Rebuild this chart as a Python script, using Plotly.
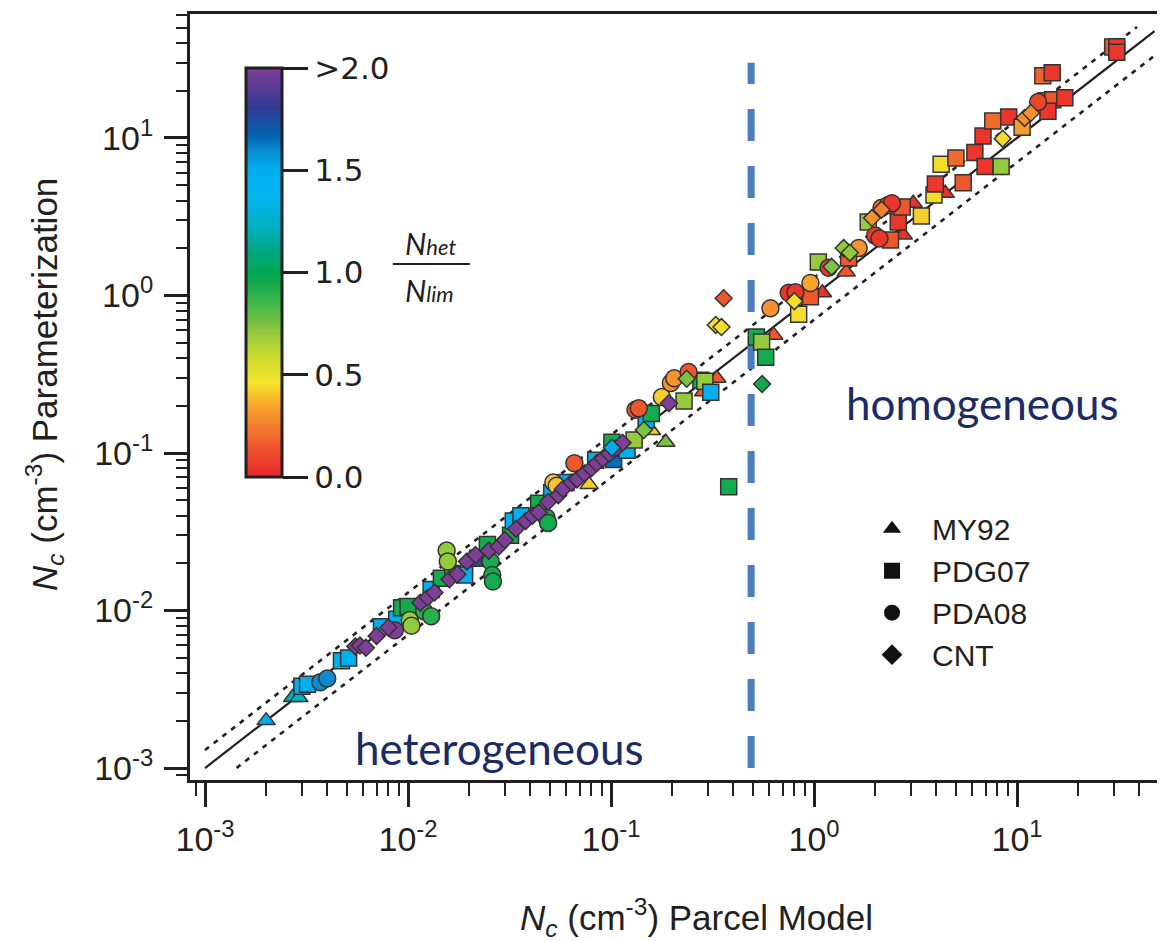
import plotly.graph_objects as go

# ---------------- data (x: parcel model, y: parameterization, r: Nhet/Nlim) -------------
my92_x = [0.0020, 0.0027, 0.0029, 0.078, 0.158, 0.186, 0.286, 0.332, 0.633, 1.10, 1.44, 2.75, 3.08, 4.43, 7.6]
my92_y = [0.0020, 0.0028, 0.0028, 0.063, 0.139, 0.117, 0.245, 0.298, 0.56, 1.04, 1.41, 2.42, 3.85, 4.45, 6.5]
my92_r = [1.5, 1.2, 1.25, 0.42, 0.42, 0.75, 0.15, 0.15, 0.15, 0.03, 0.15, 0.03, 0.03, 0.03, 0.03]

pdg07_x = [0.0030, 0.0032, 0.0047, 0.0051, 0.0074, 0.0088, 0.0093, 0.0100, 0.0130, 0.0146,
           0.0166, 0.019, 0.022, 0.0246, 0.032, 0.033, 0.036, 0.044, 0.051, 0.060,
           0.084, 0.101, 0.103, 0.120, 0.130, 0.149, 0.158, 0.229, 0.277, 0.290,
           0.31, 0.38, 0.52, 0.552, 0.578, 0.84, 0.96, 1.05, 1.48, 1.85,
           2.38, 2.6, 2.72, 3.38, 3.9, 3.96, 4.23, 5.0, 5.43, 6.2,
           6.96, 8.35, 6.8, 7.6, 9.1, 10.6, 13.9, 15.0, 14.2, 17.2,
           13.4, 14.9, 29.6, 31.0, 31.0]
pdg07_y = [0.0033, 0.0034, 0.0048, 0.0050, 0.0079, 0.0088, 0.0104, 0.0106, 0.0136, 0.0160,
           0.0172, 0.0168, 0.0215, 0.0262, 0.030, 0.037, 0.040, 0.048, 0.056, 0.065,
           0.090, 0.117, 0.091, 0.104, 0.121, 0.162, 0.178, 0.214, 0.29, 0.285,
           0.243, 0.061, 0.545, 0.507, 0.405, 0.76, 0.98, 1.63, 1.73, 2.93,
           2.25, 2.93, 3.65, 3.2, 4.35, 5.1, 6.8, 7.45, 5.2, 8.1,
           6.6, 6.6, 10.3, 12.8, 13.6, 11.7, 17.2, 17.5, 14.8, 18.0,
           24.8, 25.9, 37.8, 38.0, 35.0]
pdg07_r = [1.45, 1.45, 1.45, 1.45, 1.45, 1.45, 0.95, 0.95, 1.45, 0.95,
           0.95, 1.45, 1.85, 0.95, 0.95, 1.45, 1.45, 0.95, 1.45, 1.45,
           1.45, 0.95, 1.65, 1.45, 0.7, 1.45, 0.95, 0.7, 0.95, 0.7,
           1.45, 0.95, 0.95, 0.7, 0.95, 0.45, 0.15, 0.7, 0.15, 0.7,
           0.15, 0.05, 0.15, 0.42, 0.45, 0.05, 0.45, 0.2, 0.15, 0.05,
           0.05, 0.7, 0.05, 0.2, 0.05, 0.32, 0.15, 0.15, 0.05, 0.05,
           0.18, 0.05, 0.15, 0.05, 0.05]

pda08_x = [0.0037, 0.0040, 0.0086, 0.0102, 0.0104, 0.0120, 0.0130, 0.0155, 0.0157, 0.0255,
           0.0260, 0.0262, 0.048, 0.049, 0.052, 0.054, 0.066, 0.132, 0.137, 0.178,
           0.197, 0.205, 0.241, 0.61, 0.75, 0.81, 0.96, 1.18, 1.66, 2.0,
           2.1, 2.15, 2.32, 2.42, 12.7]
pda08_y = [0.0035, 0.0037, 0.0075, 0.0087, 0.0080, 0.0099, 0.0092, 0.0240, 0.0205, 0.0205,
           0.0168, 0.0153, 0.039, 0.036, 0.065, 0.062, 0.086, 0.188, 0.192, 0.227,
           0.278, 0.298, 0.327, 0.83, 1.04, 1.05, 1.2, 1.50, 2.0, 2.4,
           2.3, 3.6, 3.75, 3.85, 16.9]
pda08_r = [1.6, 1.6, 2.0, 0.7, 0.7, 0.9, 0.9, 0.7, 0.7, 0.95,
           0.95, 0.95, 0.95, 0.95, 0.4, 0.4, 0.15, 0.15, 0.15, 0.42,
           0.3, 0.3, 0.15, 0.3, 0.05, 0.05, 0.35, 0.05, 0.3, 0.05,
           0.05, 0.2, 0.2, 0.05, 0.1]

cnt_x = [0.0055, 0.0058, 0.0062, 0.0070, 0.0080, 0.0115, 0.0125, 0.0135, 0.0160, 0.0175,
         0.0195, 0.0215, 0.025, 0.028, 0.030, 0.034, 0.038, 0.041, 0.044, 0.049,
         0.055, 0.058, 0.064, 0.068, 0.074, 0.080, 0.085, 0.091, 0.098, 0.106,
         0.114, 0.101, 0.145, 0.193, 0.236, 0.359, 0.328, 0.35, 0.555, 0.80,
         1.22, 1.40, 1.50, 1.93, 2.15, 8.5, 10.9, 11.7]
cnt_y = [0.0059, 0.0060, 0.0058, 0.0069, 0.0078, 0.0112, 0.0121, 0.0130, 0.0158, 0.0170,
         0.0205, 0.0225, 0.024, 0.0255, 0.028, 0.033, 0.037, 0.040, 0.042, 0.049,
         0.054, 0.059, 0.065, 0.068, 0.074, 0.080, 0.086, 0.092, 0.099, 0.107,
         0.116, 0.108, 0.140, 0.207, 0.296, 0.96, 0.65, 0.63, 0.274, 0.92,
         1.52, 2.0, 1.87, 3.1, 3.5, 9.9, 13.4, 14.4]
cnt_r = [2.0, 2.0, 2.0, 2.0, 2.0, 2.0, 2.0, 2.0, 2.0, 2.0,
         2.0, 2.0, 2.0, 2.0, 2.0, 2.0, 2.0, 2.0, 2.0, 2.0,
         2.0, 2.0, 2.0, 2.0, 2.0, 2.0, 2.0, 2.0, 2.0, 2.0,
         2.0, 1.5, 0.75, 2.0, 0.75, 0.15, 0.45, 0.45, 0.95, 0.45,
         0.75, 0.7, 0.7, 0.3, 0.25, 0.45, 0.3, 0.3]

scheme_names = ["MY92", "PDG07", "PDA08", "CNT"]

# reference lines
line_1to1 = [0.001, 47.6]
upper_band_x = [0.001, 39.0]
lower_band_x = [0.00143, 47.6]
band_factor_hi = 1.3
band_factor_lo = 0.7
threshold_x = 0.49
threshold_y = [0.001, 30.0]

cbar_tickvals = [0.0, 0.5, 1.0, 1.5, 2.0]
cbar_ticktext = ["0.0", "0.5", "1.0", "1.5", ">2.0"]

major_vals = [1e-3, 1e-2, 1e-1, 1e0, 1e1]
major_text = ["10<sup>-3</sup>", "10<sup>-2</sup>", "10<sup>-1</sup>", "10<sup>0</sup>", "10<sup>1</sup>"]
minor_vals = [m * 10.0 ** k for k in range(-4, 2) for m in range(2, 10)]

colorscale = [
    [0.00, "#e8262a"], [0.07, "#ee532c"], [0.13, "#f3822f"], [0.18, "#f8ab2b"],
    [0.23, "#f5e42a"], [0.30, "#c8db32"], [0.36, "#8cc63f"], [0.43, "#39b54a"],
    [0.50, "#00a651"], [0.56, "#00a88a"], [0.61, "#00b0c0"], [0.68, "#00b4ec"],
    [0.75, "#00aeef"], [0.80, "#0a8ad0"], [0.83, "#0068b2"], [0.90, "#2e3a94"],
    [1.00, "#7f3f98"],
]

AX = "#231f20"
TXT = "#231f20"
NAVY = "#1b2b66"
SANS = "Liberation Sans, Arial, sans-serif"
HUM = "Lato, Open Sans, sans-serif"
WIDE = "DejaVu Sans, Verdana, sans-serif"

fig = go.Figure()

# reference lines
fig.add_trace(go.Scatter(x=line_1to1, y=line_1to1, mode="lines",
                         line=dict(color=AX, width=2.2), showlegend=False, hoverinfo="skip"))
fig.add_trace(go.Scatter(x=upper_band_x, y=[v * band_factor_hi for v in upper_band_x], mode="lines",
                         line=dict(color=AX, width=2.6, dash="5px,6px"), showlegend=False, hoverinfo="skip"))
fig.add_trace(go.Scatter(x=lower_band_x, y=[v * band_factor_lo for v in lower_band_x], mode="lines",
                         line=dict(color=AX, width=2.6, dash="5px,6px"), showlegend=False, hoverinfo="skip"))
fig.add_trace(go.Scatter(x=[threshold_x, threshold_x], y=threshold_y, mode="lines",
                         line=dict(color="#4a7dbd", width=7, dash="32px,25px"), showlegend=False, hoverinfo="skip"))

symbols = ["triangle-up", "square", "circle", "diamond"]
sizes = [16, 16, 17, 13]
datasets = [(my92_x, my92_y, my92_r), (pdg07_x, pdg07_y, pdg07_r),
            (pda08_x, pda08_y, pda08_r), (cnt_x, cnt_y, cnt_r)]

for name, sym, sz, (xs, ys, rs) in zip(scheme_names, symbols, sizes, datasets):
    fig.add_trace(go.Scatter(
        x=xs, y=ys, mode="markers", name=name, showlegend=False,
        marker=dict(symbol=sym, size=sz, color=rs, coloraxis="coloraxis",
                    line=dict(color="#333333", width=1.5)),
    ))

# legend entries (black symbols)
for name, sym in zip(scheme_names, symbols):
    fig.add_trace(go.Scatter(
        x=[None], y=[None], mode="markers", name=name,
        marker=dict(symbol=sym, size=16, color="#111111"),
    ))

fig.update_layout(
    width=1157, height=933,
    margin=dict(l=182, r=0, t=6, b=161, autoexpand=False),
    paper_bgcolor="white", plot_bgcolor="white",
    showlegend=True,
    legend=dict(x=0.679, y=0.362, xanchor="left", yanchor="top",
                font=dict(size=30, color=TXT, family=SANS),
                itemwidth=70, tracegroupgap=0, bgcolor="rgba(0,0,0,0)", itemsizing="trace"),
    coloraxis=dict(
        cmin=0, cmax=2, colorscale=colorscale,
        colorbar=dict(
            x=0.0574, xanchor="left", y=0.6625, yanchor="middle",
            thickness=36, thicknessmode="pixels", len=409, lenmode="pixels",
            xpad=0, ypad=0, outlinewidth=3, outlinecolor=AX,
            tickvals=cbar_tickvals, ticktext=cbar_ticktext,
            ticks="outside", ticklen=25, tickwidth=3, tickcolor=AX,
            tickfont=dict(size=31, color=TXT, family=WIDE),
        ),
    ),
    xaxis=dict(
        type="log", range=[-3.074, 1.729],
        showgrid=False, zeroline=False,
        showline=True, linecolor=AX, linewidth=3, mirror=True,
        ticks="outside", ticklen=24, tickwidth=2.5, tickcolor=AX,
        tickvals=major_vals, ticktext=major_text,
        tickfont=dict(size=34, color=TXT, family=SANS),
        ticklabelstandoff=3,
        minor=dict(ticks="outside", ticklen=13, tickwidth=2, tickcolor=AX, tickvals=minor_vals, showgrid=False),
    ),
    yaxis=dict(
        type="log", range=[-3.076, 1.787],
        showgrid=False, zeroline=False,
        showline=True, linecolor=AX, linewidth=3, mirror=False,
        ticks="outside", ticklen=23, tickwidth=2.5, tickcolor=AX,
        tickvals=major_vals, ticktext=major_text,
        tickfont=dict(size=34, color=TXT, family=SANS),
        ticklabelstandoff=4,
        minor=dict(ticks="outside", ticklen=11, tickwidth=2, tickcolor=AX, tickvals=minor_vals, showgrid=False),
    ),
    annotations=[
        dict(text="<i>N<sub>c</sub></i> (cm<sup>-3</sup>) Parcel Model", xref="paper", yref="paper",
             x=0.519, y=-0.180, xanchor="center", yanchor="middle", showarrow=False,
             font=dict(size=35, color=TXT, family=SANS)),
        dict(text="<i>N<sub>c</sub></i> (cm<sup>-3</sup>) Parameterization", xref="paper", yref="paper",
             x=-0.1487, y=0.5157, xanchor="center", yanchor="middle", textangle=-90, showarrow=False,
             font=dict(size=35, color=TXT, family=SANS)),
        dict(text="homogeneous", xref="paper", yref="paper", x=0.813, y=0.492,
             xanchor="center", yanchor="middle",
             showarrow=False, font=dict(size=44, color=NAVY, family=HUM)),
        dict(text="heterogeneous", xref="paper", yref="paper", x=0.317, y=0.0418,
             xanchor="center", yanchor="middle",
             showarrow=False, font=dict(size=44, color=NAVY, family=HUM)),
        dict(text="<i>N<span style='font-size:22px'>het</span></i>", xref="paper", yref="paper",
             x=0.2185, y=0.701, xanchor="left", yanchor="middle", showarrow=False,
             font=dict(size=30, color=TXT, family=HUM)),
        dict(text="<i>N<span style='font-size:22px'>lim</span></i>", xref="paper", yref="paper",
             x=0.2185, y=0.6397, xanchor="left", yanchor="middle", showarrow=False,
             font=dict(size=30, color=TXT, family=HUM)),
    ],
    shapes=[
        dict(type="line", xref="paper", yref="paper", x0=0.208, x1=0.287, y0=0.6736, y1=0.6736,
             line=dict(color=AX, width=2)),
    ],
)

fig.write_html("out.html")
